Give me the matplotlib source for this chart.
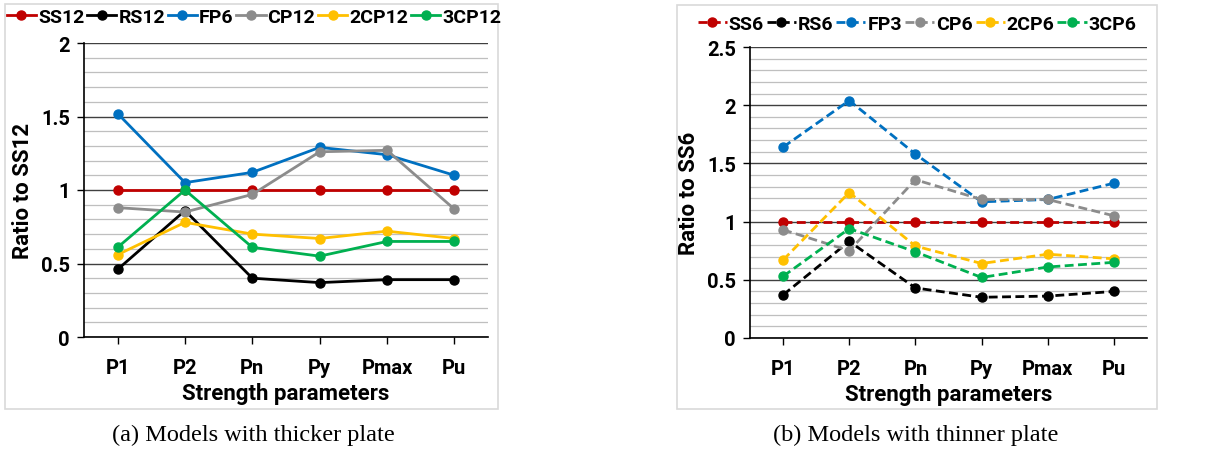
import matplotlib
matplotlib.use('Agg')
import matplotlib.pyplot as plt
from matplotlib.patches import Rectangle

categories = ['P1', 'P2', 'Pn', 'Py', 'Pmax', 'Pu']

# (a) thicker plate
names_a = ['SS12', 'RS12', 'FP6', 'CP12', '2CP12', '3CP12']
ss12 = [1.00, 1.00, 1.00, 1.00, 1.00, 1.00]
rs12 = [0.46, 0.86, 0.40, 0.37, 0.39, 0.39]
fp6 = [1.52, 1.05, 1.12, 1.29, 1.24, 1.10]
cp12 = [0.88, 0.85, 0.97, 1.26, 1.27, 0.87]
cp12_2 = [0.56, 0.78, 0.70, 0.67, 0.72, 0.67]
cp12_3 = [0.61, 1.00, 0.61, 0.55, 0.65, 0.65]

# (b) thinner plate
names_b = ['SS6', 'RS6', 'FP3', 'CP6', '2CP6', '3CP6']
ss6 = [1.00, 1.00, 1.00, 1.00, 1.00, 1.00]
rs6 = [0.37, 0.83, 0.43, 0.35, 0.36, 0.40]
fp3 = [1.64, 2.04, 1.58, 1.17, 1.19, 1.33]
cp6 = [0.93, 0.75, 1.36, 1.19, 1.19, 1.05]
cp6_2 = [0.67, 1.25, 0.79, 0.64, 0.72, 0.68]
cp6_3 = [0.53, 0.94, 0.74, 0.52, 0.61, 0.65]

colors = ['#C00000', '#000000', '#0070C0', '#8C8C8C', '#FFC000', '#00B050']

FONT = 'Roboto'
W, H = 1215, 452

fig = plt.figure(figsize=(W / 100, H / 100), dpi=100)


def px_box(x0, y0, x1, y1):
    # pixel box (top-left origin) -> figure fraction rect
    return [x0 / W, 1 - y1 / H, (x1 - x0) / W, (y1 - y0) / H]


def draw_panel(rect, frame, series, names, ymax, ylabel, dashed, legend_xy, caption, cap_x):
    fr = px_box(*frame)
    fig.patches.append(Rectangle((fr[0], fr[1]), fr[2], fr[3], transform=fig.transFigure,
                                 fill=False, edgecolor='#D9D9D9', linewidth=1.2))
    ax = fig.add_axes(px_box(*rect))
    x = list(range(len(categories)))
    ls = (0, (3.2, 1.6)) if dashed else '-'
    for vals, name, c in zip(series, names, colors):
        ax.plot(x, vals, color=c, linestyle=ls, linewidth=2.0, marker='o',
                markersize=6.5, label=name, zorder=3)
    ax.set_xlim(-0.5, len(categories) - 0.5)
    ax.set_ylim(0, ymax)
    ax.set_yticks([i * 0.5 for i in range(int(ymax / 0.5) + 1)])
    ax.set_yticklabels([f'{v:g}' for v in ax.get_yticks()])
    ax.set_yticks([i * 0.1 for i in range(int(round(ymax / 0.1)) + 1)], minor=True)
    ax.grid(axis='y', which='minor', color='#BFBFBF', linewidth=0.9)
    ax.grid(axis='y', which='major', color='#404040', linewidth=1.0)
    ax.tick_params(axis='y', which='minor', length=0)
    ax.tick_params(axis='y', which='major', length=5, width=1, direction='out', pad=5)
    ax.set_xticks(x)
    ax.set_xticklabels(categories)
    ax.tick_params(axis='x', length=5, width=1, direction='out', pad=10)
    ax.set_axisbelow(True)
    for s in ['top', 'right']:
        ax.spines[s].set_visible(False)
    for s in ['left', 'bottom']:
        ax.spines[s].set_color('#000000')
        ax.spines[s].set_linewidth(1.2)
    for lab in ax.get_xticklabels() + ax.get_yticklabels():
        lab.set_fontfamily(FONT)
        lab.set_fontweight('bold')
        lab.set_fontsize(14.5)
    ax.set_xlabel('Strength parameters', fontfamily=FONT, fontweight='bold', fontsize=16, labelpad=4)
    ax.set_ylabel(ylabel, fontfamily=FONT, fontweight='bold', fontsize=16, labelpad=5)
    handles, labels = ax.get_legend_handles_labels()
    fig.legend(handles, labels, loc='center', bbox_to_anchor=legend_xy, ncol=6,
               frameon=False, handlelength=1.5, handletextpad=0.1, columnspacing=0.15,
               prop={'family': FONT, 'weight': 'bold', 'size': 14})
    fig.text(cap_x, 1 - 435 / H, caption, ha='center', va='center',
             fontfamily='Liberation Serif', fontsize=17.5)
    return ax


draw_panel((84, 44, 488, 338), (5, 5, 498, 410),
           [ss12, rs12, fp6, cp12, cp12_2, cp12_3], names_a, 2.0,
           'Ratio to SS12', False, (254 / W, 1 - 18 / H),
           '(a) Models with thicker plate', 253 / W)

draw_panel((750, 48, 1147, 339), (677, 6, 1157, 410),
           [ss6, rs6, fp3, cp6, cp6_2, cp6_3], names_b, 2.5,
           'Ratio to SS6', True, (917 / W, 1 - 25 / H),
           '(b) Models with thinner plate', 916 / W)

fig.savefig('out.png', dpi=100)
